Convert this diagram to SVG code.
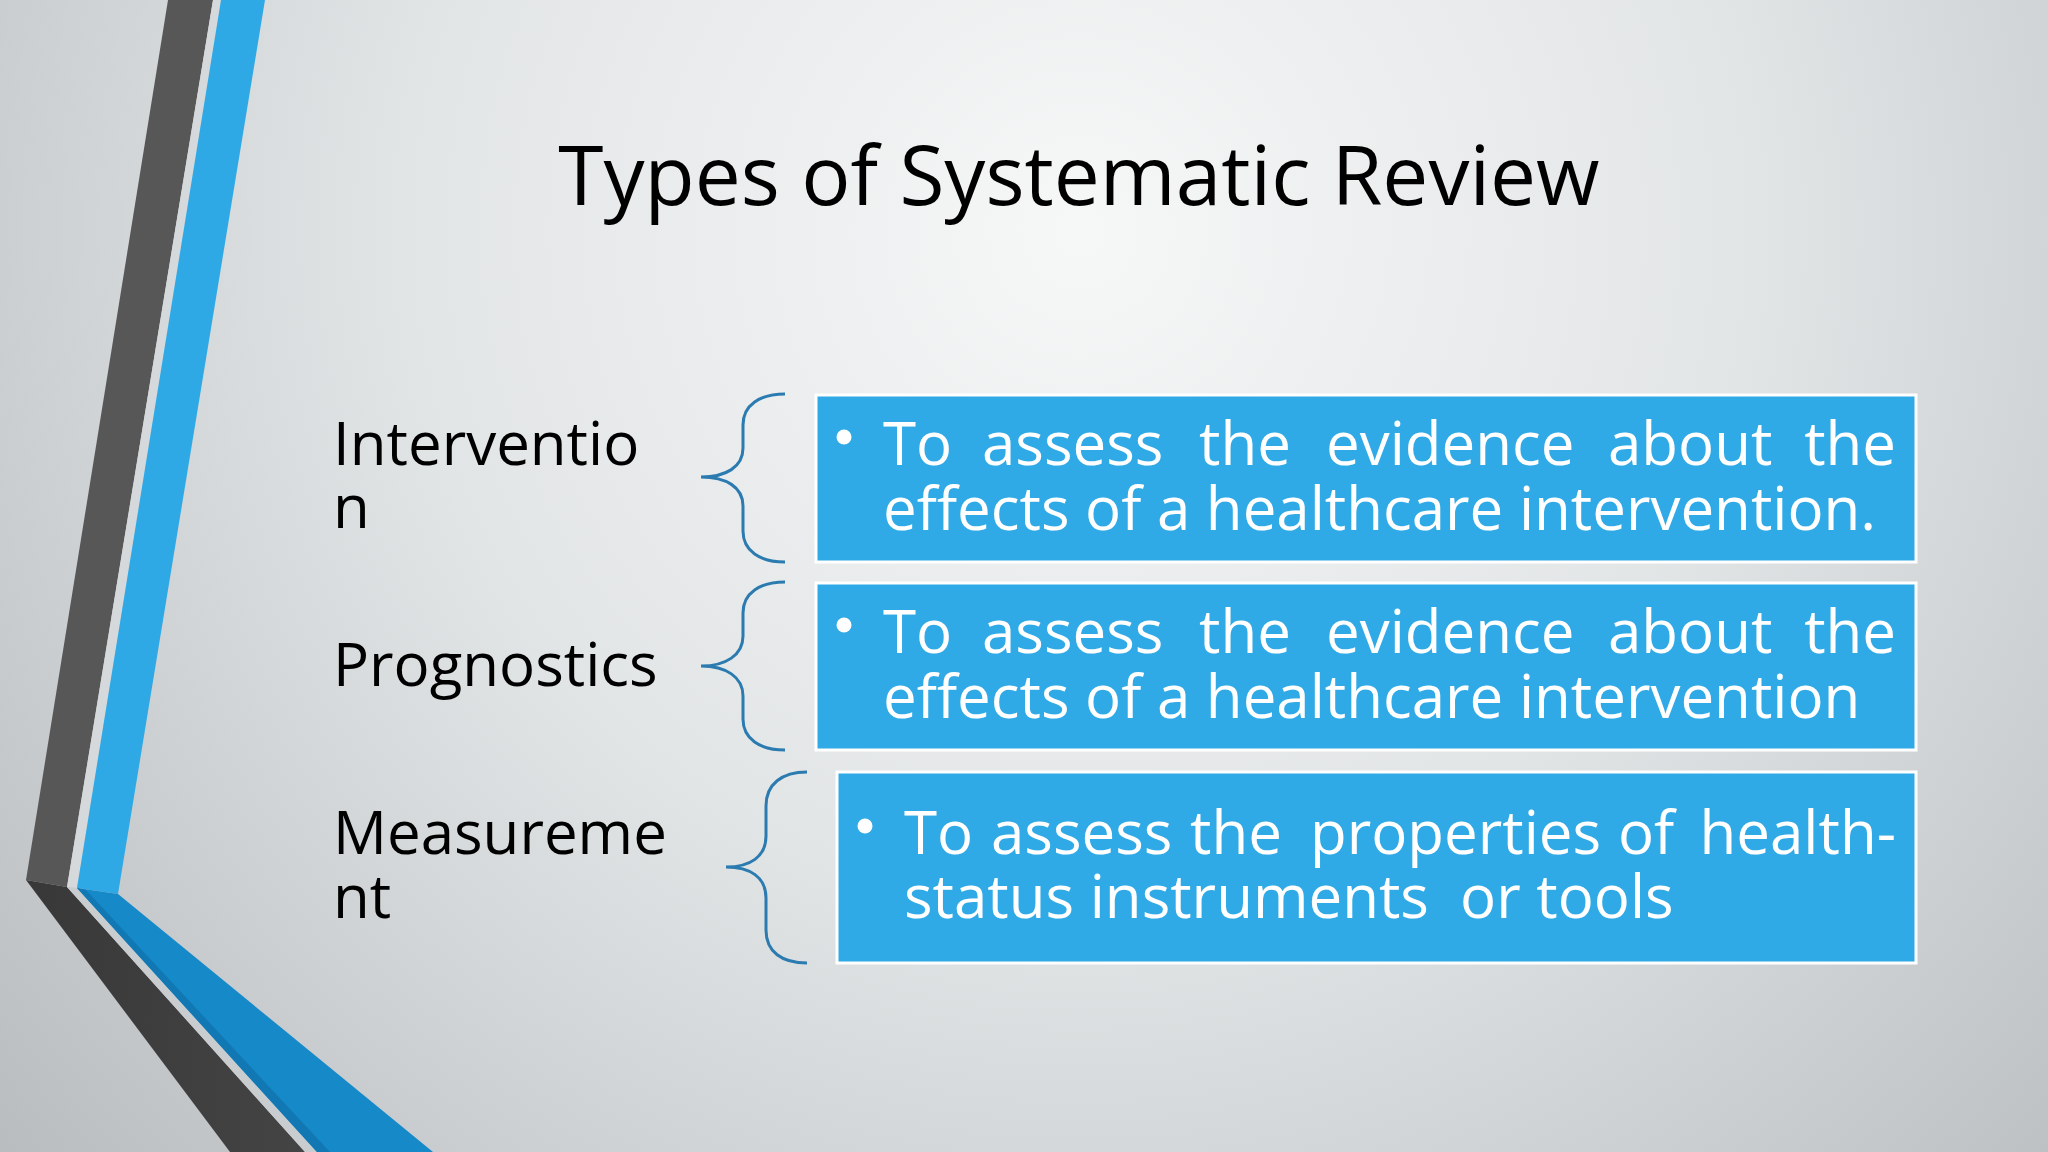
<svg xmlns="http://www.w3.org/2000/svg" width="2048" height="1152" viewBox="0 0 2048 1152">
<defs>
<radialGradient id="bg" cx="1080" cy="230" r="1500" gradientUnits="userSpaceOnUse">
<stop offset="0" stop-color="#f6f7f7"/>
<stop offset="0.45" stop-color="#e2e5e6"/>
<stop offset="1" stop-color="#b4b8bb"/>
</radialGradient>
<linearGradient id="darkLow" x1="0" y1="0" x2="1" y2="0">
<stop offset="0" stop-color="#383838"/>
<stop offset="1" stop-color="#444444"/>
</linearGradient>
</defs>
<style>
.title{font-family:"Open Sans","Noto Sans","Liberation Sans",sans-serif;font-size:82px;fill:#000;}
.label{font-family:"Open Sans","Noto Sans","Liberation Sans",sans-serif;font-size:60px;fill:#000;}
.box{fill:#30aae6;stroke:#ffffff;stroke-width:3;}
.btxt{font-family:"Open Sans","Noto Sans","Liberation Sans",sans-serif;font-size:60px;fill:#ffffff;white-space:pre;}
.bullet{fill:#ffffff;}
.brace{fill:none;stroke:#2b7bb0;stroke-width:3;}
</style>
<rect x="0" y="0" width="2048" height="1152" fill="url(#bg)"/>
<g id="decoration">
<polygon points="168,0 213,0 67,887 26,880" fill="#575757"/>
<polygon points="213,0 221,0 77,888 67,887" fill="#d6d9db"/>
<polygon points="221,0 265,0 118,894 77,888" fill="#2fa9e6"/>
<polygon points="26,880 67,887 305,1152 230,1152" fill="url(#darkLow)"/>
<polygon points="67,887 77,888 317,1152 305,1152" fill="#c9cdd0"/>
<polygon points="77,888 118,894 433,1152 317,1152" fill="#1689c9"/>
<polygon points="77,888 86,890 330,1152 317,1152" fill="#1178b4"/>
</g>
<g id="title">
<text class="title" x="1079" y="205" text-anchor="middle">Types of Systematic Review</text>
</g>
<g id="label-intervention">
<text class="label" x="333" y="465">Interventio</text>
<text class="label" x="333" y="528">n</text>
</g>
<g id="label-prognostics">
<text class="label" x="333" y="686">Prognostics</text>
</g>
<g id="label-measurement">
<text class="label" x="333" y="854">Measureme</text>
<text class="label" x="333" y="918">nt</text>
</g>
<g id="connectors">
<path class="brace" d="M785,394 C760,394 743,405 743,425 L743,448 C743,467 726,477 701,477 C726,477 743,487 743,506 L743,531 C743,551 760,562 785,562"/>
<path class="brace" d="M785,582 C760,582 743,593 743,613 L743,636 C743,655 726,666 701,666 C726,666 743,677 743,696 L743,719 C743,739 760,750 785,750"/>
<path class="brace" d="M807,772 C782,772 766,784 766,806 L766,836 C766,857 750,867 726,867 C750,867 766,877 766,898 L766,930 C766,952 782,963 807,963"/>
</g>
<g id="box-intervention">
<rect class="box" x="816" y="395" width="1100" height="167"/>
<circle class="bullet" cx="844" cy="437" r="7.5"/>
<text class="btxt" x="883" y="465">To</text>
<text class="btxt" x="982" y="465">assess</text>
<text class="btxt" x="1199" y="465">the</text>
<text class="btxt" x="1326" y="465">evidence</text>
<text class="btxt" x="1608" y="465">about</text>
<text class="btxt" x="1896" y="465" text-anchor="end">the</text>
<text class="btxt" x="883" y="530">effects of a healthcare intervention.</text>
</g>
<g id="box-prognostics">
<rect class="box" x="816" y="583" width="1100" height="167"/>
<circle class="bullet" cx="844" cy="625" r="7.5"/>
<text class="btxt" x="883" y="653">To</text>
<text class="btxt" x="982" y="653">assess</text>
<text class="btxt" x="1199" y="653">the</text>
<text class="btxt" x="1326" y="653">evidence</text>
<text class="btxt" x="1608" y="653">about</text>
<text class="btxt" x="1896" y="653" text-anchor="end">the</text>
<text class="btxt" x="883" y="718">effects of a healthcare intervention</text>
</g>
<g id="box-measurement">
<rect class="box" x="837" y="772" width="1079" height="191"/>
<circle class="bullet" cx="865" cy="826" r="7.5"/>
<text class="btxt" x="904" y="854">To</text>
<text class="btxt" x="991" y="854">assess</text>
<text class="btxt" x="1190" y="854">the</text>
<text class="btxt" x="1310" y="854">properties</text>
<text class="btxt" x="1618" y="854">of</text>
<text class="btxt" x="1896" y="854" text-anchor="end">health-</text>
<text class="btxt" x="904" y="918">status instruments  or tools</text>
</g>
</svg>
